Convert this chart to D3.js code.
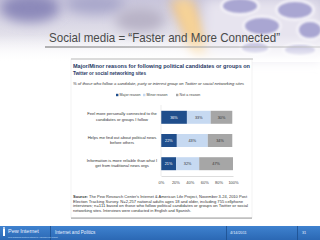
<!DOCTYPE html>
<html><head><meta charset="utf-8">
<script src="https://cdn.jsdelivr.net/npm/d3@7"></script>
<style>html,body{margin:0;padding:0;background:#fff;}svg{display:block;}</style>
</head><body>
<script>
const categories = [
  ["Feel more personally connected to the", "candidates or groups I follow"],
  ["Helps me find out about political news", "before others"],
  ["Information is more reliable than what I", "get from traditional news orgs"]
];
const seriesNames = ["Major reason", "Minor reason", "Not a reason"];
const major = [36, 22, 21];
const minor = [33, 43, 32];
const notReason = [30, 34, 47];
const tickLabels = ["0%", "20%", "40%", "60%", "80%", "100%"];
const colors = ["#1f4e8c", "#c6d9f1", "#a6a6a6"];
const textColors = ["#ffffff", "#333333", "#333333"];

const W = 320, H = 240;
const svg = d3.select("body").append("svg").attr("width", W).attr("height", H);
const defs = svg.append("defs");

// Background photo approximation
const bg = defs.append("linearGradient").attr("id","bgGrad").attr("x1",0).attr("y1",0).attr("x2",0).attr("y2",1);
bg.append("stop").attr("offset","0%").attr("stop-color","#c9c6dc");
bg.append("stop").attr("offset","55%").attr("stop-color","#e2e0ea");
bg.append("stop").attr("offset","100%").attr("stop-color","#ffffff");
svg.append("rect").attr("x",0).attr("y",0).attr("width",W).attr("height",62).attr("fill","url(#bgGrad)");
const blur = defs.append("filter").attr("id","blur").attr("x","-50%").attr("y","-50%").attr("width","200%").attr("height","200%");
blur.append("feGaussianBlur").attr("stdDeviation",6);
const blur2 = defs.append("filter").attr("id","blur2");
blur2.append("feGaussianBlur").attr("stdDeviation",1.2);
const photo = svg.append("g");
photo.append("ellipse").attr("cx",30).attr("cy",8).attr("rx",30).attr("ry",14).attr("fill","#8c89ba").attr("filter","url(#blur)");
photo.append("ellipse").attr("cx",95).attr("cy",4).attr("rx",30).attr("ry",10).attr("fill","#a9a7cb").attr("filter","url(#blur)");
photo.append("ellipse").attr("cx",140).attr("cy",20).attr("rx",25).attr("ry",12).attr("fill","#b8b2c6").attr("filter","url(#blur)");
photo.append("path").attr("d","M170,0 L192,0 L215,60 L196,60 Z").attr("fill","#f3c27a").attr("filter","url(#blur)");
photo.append("path").attr("d","M178,0 L186,0 L205,55 L199,55 Z").attr("fill","#fbe3b0").attr("filter","url(#blur)");
photo.append("rect").attr("x",205).attr("y",0).attr("width",115).attr("height",60).attr("fill","#e7e4ef").attr("filter","url(#blur)");
const keys = [[240,6,20,10],[295,10,20,11],[262,26,20,11],[310,30,14,11],[255,48,16,8],[300,50,18,8]];
keys.forEach(k=>{
  photo.append("ellipse").attr("cx",k[0]).attr("cy",k[1]).attr("rx",k[2]).attr("ry",k[3]).attr("fill","#f2f0f7").attr("filter","url(#blur2)");
  photo.append("ellipse").attr("cx",k[0]).attr("cy",k[1]).attr("rx",k[2]-3).attr("ry",k[3]-3).attr("fill","#a9a6d2").attr("filter","url(#blur2)");
});
const fade = defs.append("linearGradient").attr("id","fade").attr("x1",0).attr("y1",0).attr("x2",0).attr("y2",1);
fade.append("stop").attr("offset","0%").attr("stop-color","#fff").attr("stop-opacity",0);
fade.append("stop").attr("offset","100%").attr("stop-color","#fff").attr("stop-opacity",1);
svg.append("rect").attr("x",0).attr("y",35).attr("width",W).attr("height",27).attr("fill","url(#fade)");

// Slide title
svg.append("text").attr("x",49).attr("y",42).attr("font-family","Liberation Sans, Arial, sans-serif")
  .attr("font-size",13).attr("fill","#4a4a4a").attr("textLength",231).attr("lengthAdjust","spacingAndGlyphs")
  .text("Social media = \u201cFaster and More Connected\u201d");
const ul = defs.append("linearGradient").attr("id","ul").attr("x1",0).attr("x2",1).attr("y1",0).attr("y2",0);
ul.append("stop").attr("offset","0%").attr("stop-color","#6b6b6b");
ul.append("stop").attr("offset","100%").attr("stop-color","#c8c8c8");
svg.append("rect").attr("x",45).attr("y",46.5).attr("width",275).attr("height",1).attr("fill","url(#ul)");

// Chart panel
svg.append("rect").attr("x",71).attr("y",59).attr("width",181).attr("height",159).attr("fill","#fff").attr("stroke","#e6e6e6").attr("stroke-width",0.5);
svg.append("rect").attr("x",71).attr("y",58.5).attr("width",182).attr("height",1).attr("fill","#bdbdbd");
svg.append("rect").attr("x",71).attr("y",217.5).attr("width",181).attr("height",1.2).attr("fill","#a8a8a8");

const cf = "Liberation Sans, Arial, sans-serif";
svg.append("text").attr("x",73).attr("y",67.5).attr("font-family",cf).attr("font-weight","bold").attr("font-size",5.6)
  .attr("fill","#1f3864").attr("textLength",177).attr("lengthAdjust","spacingAndGlyphs")
  .text("Major/Minor reasons for following political candidates or groups on");
svg.append("text").attr("x",73).attr("y",74.5).attr("font-family",cf).attr("font-weight","bold").attr("font-size",5.6)
  .attr("fill","#1f3864").attr("textLength",73).attr("lengthAdjust","spacingAndGlyphs")
  .text("Twitter or social networking sites");
svg.append("text").attr("x",73).attr("y",84.5).attr("font-family",cf).attr("font-style","italic").attr("font-size",3.6)
  .attr("fill","#333").attr("textLength",171).attr("lengthAdjust","spacingAndGlyphs")
  .text("% of those who follow a candidate, party or interest group on Twitter or social networking sites");

// Legend
const legX = [116, 143, 176];
seriesNames.forEach((s,i)=>{
  svg.append("rect").attr("x",legX[i]).attr("y",93.8).attr("width",2.4).attr("height",2.4).attr("fill",colors[i]);
  svg.append("text").attr("x",legX[i]+3.6).attr("y",96.3).attr("font-family",cf).attr("font-size",3.6).attr("fill","#444").text(s);
});

// Scales
const x = d3.scaleLinear().domain([0,100]).range([161,233]);
const y = d3.scaleBand().domain(d3.range(categories.length)).range([105,176]).paddingInner(0.44).paddingOuter(0.25);

const stacks = categories.map((c,i)=>{
  const vals = [major[i], minor[i], notReason[i]];
  let acc = 0;
  return vals.map((v,k)=>{ const o = {i, k, v, x0: acc, x1: acc+v}; acc += v; return o; });
});

const g = svg.append("g");
stacks.forEach(row=>{
  row.forEach(seg=>{
    g.append("rect").attr("x",x(seg.x0)).attr("y",y(seg.i)).attr("width",x(seg.x1)-x(seg.x0)).attr("height",y.bandwidth()).attr("fill",colors[seg.k]);
    g.append("text").attr("x",(x(seg.x0)+x(seg.x1))/2).attr("y",y(seg.i)+y.bandwidth()/2+1.3)
      .attr("text-anchor","middle").attr("font-family",cf).attr("font-size",3.8).attr("fill",textColors[seg.k]).text(seg.v+"%");
  });
});

// Category labels
categories.forEach((lines,i)=>{
  const cy = y(i)+y.bandwidth()/2;
  lines.forEach((ln,j)=>{
    svg.append("text").attr("x",122).attr("y",cy - 1.8 + j*5.4).attr("text-anchor","middle")
      .attr("font-family",cf).attr("font-size",4.1).attr("fill","#333").text(ln);
  });
});

// Axes
const xAxis = d3.axisBottom(x).tickValues([0,20,40,60,80,100]).tickFormat((d,i)=>tickLabels[i]).tickSize(0).tickPadding(5);
const ax = svg.append("g").attr("transform","translate(0,176)").call(xAxis);
ax.select(".domain").attr("stroke","#cfcfcf").attr("stroke-width",0.7);
ax.selectAll("text").attr("font-family",cf).attr("font-size",4).attr("fill","#444");
svg.append("line").attr("x1",161).attr("x2",161).attr("y1",105).attr("y2",176).attr("stroke","#e0e0e0").attr("stroke-width",0.6);

// Source
const src = [
  ["Source:", " The Pew Research Center's Internet & American Life Project, November 3-24, 2010 Post"],
  ["", "Election Tracking Survey. N=2,257 national adults ages 18 and older, including 755 cellphone"],
  ["", "interviews; n=111 based on those who follow political candidates or groups on Twitter or social"],
  ["", "networking sites. Interviews were conducted in English and Spanish."]
];
const srcLen = [174, 170, 175, 118];
src.forEach((l,i)=>{
  const t = svg.append("text").attr("x",73).attr("y",198+i*4.5).attr("font-family",cf).attr("font-size",3.6).attr("fill","#333")
    .attr("textLength",srcLen[i]).attr("lengthAdjust","spacingAndGlyphs");
  if (l[0]) t.append("tspan").attr("font-weight","bold").text(l[0]);
  t.append("tspan").text(l[1]);
});

// Footer
const fg = defs.append("linearGradient").attr("id","fg").attr("x1",0).attr("x2",0).attr("y1",0).attr("y2",1);
fg.append("stop").attr("offset","0%").attr("stop-color","#3f82cf");
fg.append("stop").attr("offset","100%").attr("stop-color","#2b68b4");
svg.append("rect").attr("x",0).attr("y",226).attr("width",W).attr("height",14).attr("fill","url(#fg)");
[50,226,297].forEach(sx=>svg.append("rect").attr("x",sx).attr("y",226).attr("width",0.8).attr("height",14).attr("fill","#1d4f8f"));
svg.append("rect").attr("x",3).attr("y",229).attr("width",2).attr("height",7).attr("fill","#fff");
svg.append("circle").attr("cx",4).attr("cy",228).attr("r",0.9).attr("fill","#fff");
svg.append("text").attr("x",8).attr("y",233).attr("font-family",cf).attr("font-size",5.5).attr("fill","#e8f0ff").text("Pew Internet");
svg.append("text").attr("x",8).attr("y",237.5).attr("font-family",cf).attr("font-size",2).attr("fill","#cfe0ff").text("Pew Research Center's Internet & American Life Project");
svg.append("text").attr("x",55).attr("y",234).attr("font-family",cf).attr("font-size",4.6).attr("fill","#e8f0ff").text("Internet and Politics");
svg.append("text").attr("x",230).attr("y",234).attr("font-family",cf).attr("font-size",3.8).attr("fill","#e8f0ff").text("4/14/2011");
svg.append("text").attr("x",302).attr("y",234).attr("font-family",cf).attr("font-size",3.8).attr("fill","#e8f0ff").text("31");
</script>
</body></html>
